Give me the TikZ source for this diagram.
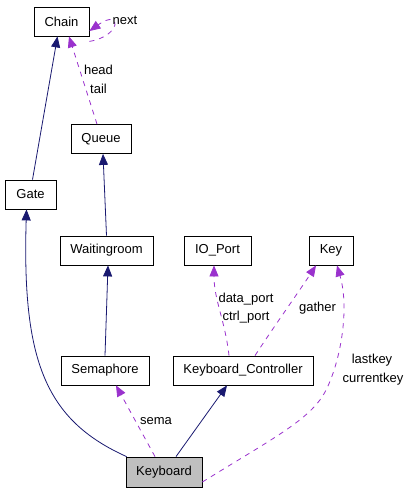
\documentclass[tikz,border=0pt]{standalone}
\usepackage{fontspec}
\setmainfont{Liberation Sans}
\usetikzlibrary{arrows.meta}
\definecolor{navyedge}{HTML}{191970}
\definecolor{purpleedge}{HTML}{9A32CD}
\definecolor{grayfill}{HTML}{BFBFBF}
\begin{document}
\begin{tikzpicture}[x=1pt,y=-1pt,
  cls/.style={draw=black,line width=0.8pt,rectangle,minimum height=29pt,inner sep=0pt,font=\fontsize{13}{15}\selectfont},
  inherit/.style={draw=navyedge,line width=0.8pt,-{Triangle[length=11pt,width=9pt]},navyedge},
  usage/.style={draw=purpleedge,line width=0.8pt,dash pattern=on 5pt off 5pt,-{Triangle[length=11pt,width=9pt]},purpleedge},
  lbl/.style={font=\fontsize{13}{15}\selectfont,inner sep=0pt,text=black}]
\useasboundingbox (0,0) rectangle (409,493);
\node[cls,minimum width=55pt] (chain) at (61.5,21.5) {Chain};
\node[cls,minimum width=60pt] (queue) at (101,139) {Queue};
\node[cls,minimum width=51pt] (gate) at (30.5,194.5) {Gate};
\node[cls,minimum width=93pt] (wait) at (106.5,250.5) {Waitingroom};
\node[cls,minimum width=67pt] (io) at (217.5,250.5) {IO\_Port};
\node[cls,minimum width=44pt] (key) at (331,250.5) {Key};
\node[cls,minimum width=88pt] (sema) at (105,370.5) {Semaphore};
\node[cls,minimum width=140pt] (kc) at (243,370.5) {Keyboard\_Controller};
\node[cls,minimum width=76pt,minimum height=30pt,fill=grayfill] (kb) at (164,472) {Keyboard};
% inheritance
\draw[inherit] ([xshift=2pt]gate.north) -- ([xshift=-4pt]chain.south);
\draw[inherit] (wait.north) -- ([xshift=2pt]queue.south);
\draw[inherit] (sema.north) -- ([xshift=1.5pt]wait.south);
\draw[inherit] ([xshift=12pt]kb.north) -- ([xshift=-16pt]kc.south);
\draw[inherit] ([xshift=1pt]kb.north west) .. controls (45,420) and (22,360) .. ([xshift=-4pt]gate.south);
% usage
\draw[usage] ([xshift=-4pt]queue.north) -- ([xshift=7.5pt]chain.south)
  node[lbl,pos=0.62,right=4pt] {head}
  node[lbl,pos=0.4,right=4pt] {tail};
\draw[usage] ([yshift=-5pt]chain.south east) .. controls (122,36) and (122,8) .. ([yshift=-9.5pt]chain.east);
\node[lbl] (nextl) at (125,20) {next};
\draw[usage] ([xshift=-9pt]kb.north) -- ([xshift=11pt]sema.south);
\node[lbl] (semal) at (156,421) {sema};
\draw[usage] ([xshift=-14pt]kc.north) .. controls (225,320) and (214,300) .. ([xshift=-3.5pt]io.south);
\node[lbl] (dpl) at (246,299) {data\_port};
\node[lbl] (cpl) at (246,317) {ctrl\_port};
\draw[usage] ([xshift=12pt]kc.north) .. controls (275,325) and (300,290) .. ([xshift=-15pt]key.south);
\node[lbl] (gatherl) at (317.5,308) {gather};
\coordinate (bend) at (325,392);
\draw[usage] ([yshift=-10pt]kb.east) .. controls (270,440) and (310,420) .. (bend)
  .. controls (340,364) and (350,310) .. ([xshift=6pt]key.south);
\node[lbl] (lastl) at (372,360) {lastkey};
\node[lbl] (curl) at (373,379) {currentkey};
\end{tikzpicture}
\end{document}
